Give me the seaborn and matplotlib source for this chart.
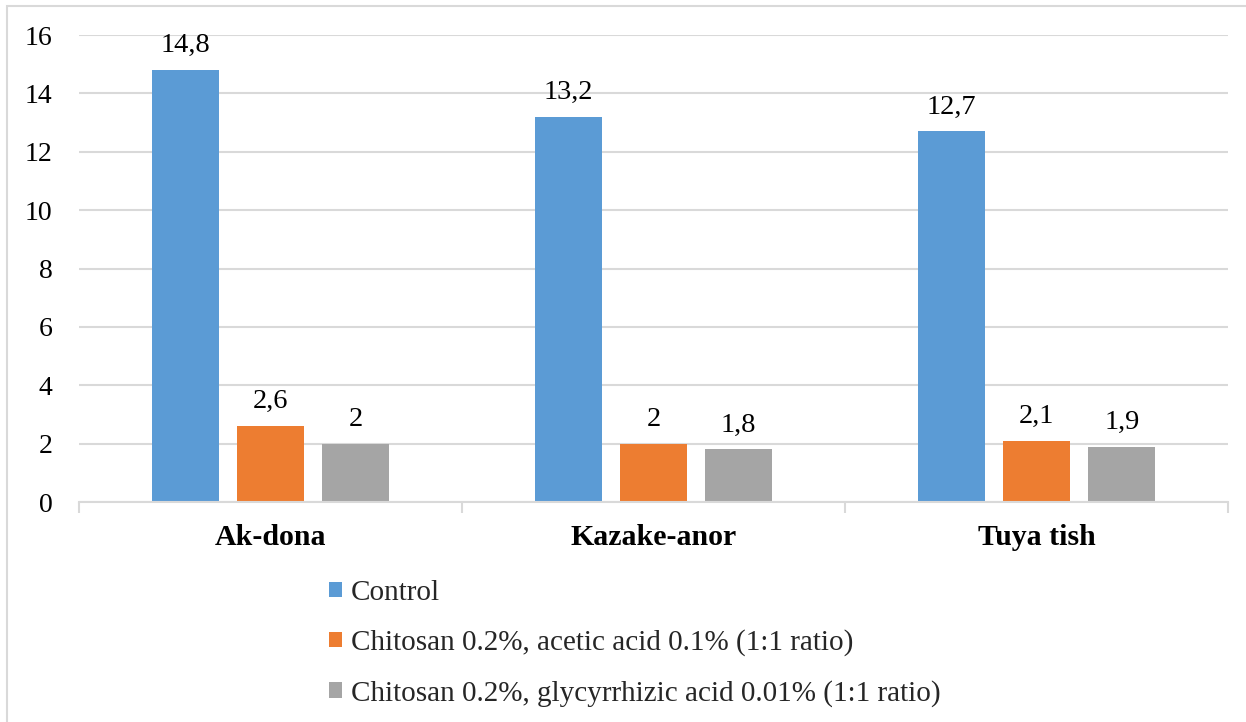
import matplotlib
matplotlib.use("Agg")
import matplotlib.pyplot as plt
from matplotlib.patches import Rectangle, Patch
from matplotlib.ticker import FixedLocator, NullFormatter
import seaborn as sns
import pandas as pd

# Data
varieties = ["Ak-dona", "Kazake-anor", "Tuya tish"]
treatments = [
    "Control",
    "Chitosan 0.2%, acetic acid 0.1% (1:1 ratio)",
    "Chitosan 0.2%, glycyrrhizic acid 0.01% (1:1 ratio)",
]
control = [14.8, 13.2, 12.7]
chitosan_acetic = [2.6, 2.0, 2.1]
chitosan_glycyrrhizic = [2.0, 1.8, 1.9]
y_ticks = [0, 2, 4, 6, 8, 10, 12, 14, 16]

colors = ["#5B9BD5", "#ED7D31", "#A5A5A5"]

rows = []
for t, vals in zip(treatments, [control, chitosan_acetic, chitosan_glycyrrhizic]):
    for v, val in zip(varieties, vals):
        rows.append({"variety": v, "treatment": t, "value": val})
df = pd.DataFrame(rows)

sns.set_theme(style="white")
plt.rcParams["font.family"] = ["Liberation Serif", "DejaVu Serif"]

fig = plt.figure(figsize=(12.46, 7.22), dpi=100)
ax = fig.add_axes([0.0634, 0.3047, 0.9856 - 0.0634, 0.9515 - 0.3047])

sns.barplot(
    data=df, x="variety", y="value", hue="treatment",
    order=varieties, hue_order=treatments, palette=colors,
    width=0.667, gap=0.21, saturation=1, legend=False, ax=ax,
    edgecolor="none", linewidth=0,
)

ax.set_ylim(0, 16)
ax.set_xlim(-0.5, 2.5)
ax.yaxis.set_major_locator(FixedLocator(y_ticks))
ax.set_xlabel("")
ax.set_ylabel("")
ax.grid(axis="y", color="#D9D9D9", linewidth=1.5)
ax.set_axisbelow(True)
for s in ["top", "right", "left"]:
    ax.spines[s].set_visible(False)
ax.spines["bottom"].set_color("#D9D9D9")
ax.spines["bottom"].set_linewidth(1.5)

ax.tick_params(axis="y", length=0, labelsize=20, pad=19, labelcolor="black")
ax.tick_params(axis="x", which="major", length=0, labelsize=21.5, pad=16)
ax.xaxis.set_minor_locator(FixedLocator([-0.5, 0.5, 1.5, 2.5]))
ax.xaxis.set_minor_formatter(NullFormatter())
ax.tick_params(axis="x", which="minor", length=8, width=1.5, color="#D9D9D9", bottom=True)
for lbl in ax.get_xticklabels():
    lbl.set_fontweight("bold")
    lbl.set_color("black")

# Value labels with comma decimal separator
for container in ax.containers:
    vals = container.datavalues
    labels = [f"{v:g}".replace(".", ",") for v in vals]
    ax.bar_label(container, labels=labels, padding=8.5, fontsize=20.5, color="black")

handles = [Patch(facecolor=c, edgecolor="none") for c in colors]
fig.legend(
    handles, treatments, loc="upper left",
    bbox_to_anchor=(329 / 1246, 1 - 580 / 722),
    frameon=False, fontsize=21, ncol=1,
    handlelength=0.45, handleheight=0.45, handletextpad=0.3,
    labelspacing=0.8, borderpad=0, borderaxespad=0,
)

# Outer chart border
fig.add_artist(Rectangle((7 / 1246, -0.1), 1.2, 1 - 6 / 722 + 0.1,
                         transform=fig.transFigure, fill=False,
                         edgecolor="#D9D9D9", linewidth=1.5))

fig.savefig("out.png", dpi=100)
